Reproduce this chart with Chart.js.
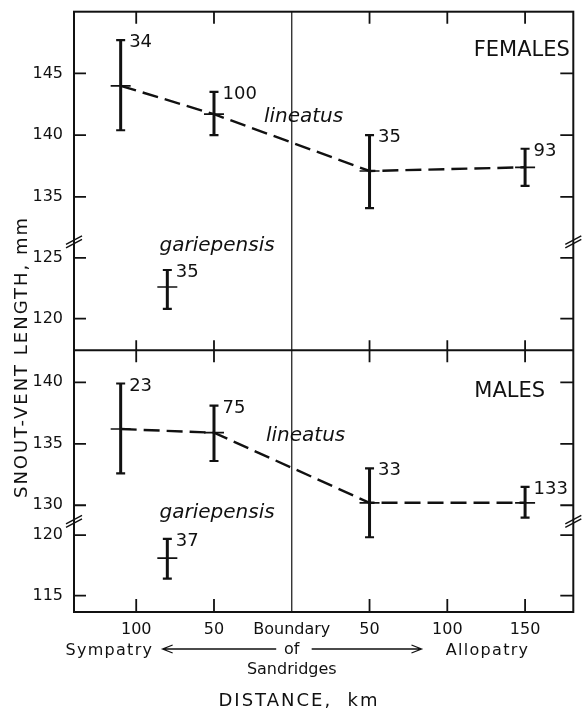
<!DOCTYPE html>
<html>
<head>
<meta charset="utf-8">
<script src="https://cdn.jsdelivr.net/npm/chart.js@4.4.0/dist/chart.umd.min.js"></script>
<style>
  html, body { margin: 0; padding: 0; background: #fff; }
  #wrap { width: 585px; height: 712px; }
</style>
</head>
<body>
<div id="wrap"><canvas id="grafic"></canvas></div>
<script>
// distance from the sandridge boundary, km (negative = sympatry side)
const llocsLineatus = [-110, -50, 50, 150];
const llocsGariep = [-80];

// snout-vent length, mm : mean, range, sample size
const femLinMitja = [144.0, 141.7, 137.1, 137.4];
const femLinMin = [140.4, 140.0, 134.1, 135.9];
const femLinMax = [147.7, 143.5, 140.0, 138.9];
const femLinN = [34, 100, 35, 93];

const femGarMitja = [122.6];
const femGarMin = [120.8];
const femGarMax = [124.0];
const femGarN = [35];

const masLinMitja = [136.2, 135.9, 130.2, 130.2];
const masLinMin = [132.6, 133.6, 127.4, 129.0];
const masLinMax = [139.9, 138.1, 133.0, 131.5];
const masLinN = [23, 75, 33, 133];

const masGarMitja = [118.1];
const masGarMin = [116.4];
const masGarMax = [119.7];
const masGarN = [37];

const xTicks = [-100, -50, 0, 50, 100, 150];
const xTickLabels = ['100', '50', ['Boundary', 'of', 'Sandridges'], '50', '100', '150'];
const femTicksUp = [145, 140, 135];
const femTicksDown = [125, 120];
const masTicksUp = [140, 135, 130];
const masTicksDown = [120, 115];

const ink = '#111';
const font = 'DejaVu Sans';

function punts(label, axis, xs, ys, line) {
  return {
    label: label,
    yAxisID: axis,
    data: xs.map((x, i) => ({x: x, y: ys[i]})),
    showLine: line,
    borderColor: ink,
    borderWidth: 2.4,
    borderDash: [16, 7],
    pointStyle: 'line',
    pointRadius: 10,
    pointBorderWidth: 1.7,
    pointBorderColor: ink,
    tension: 0
  };
}

function eixY(min, max, weight, stackWeight, ticks) {
  return {
    type: 'linear',
    position: 'left',
    stack: 'svl',
    weight: weight,
    stackWeight: stackWeight,
    min: min,
    max: max,
    grid: {display: false},
    border: {display: false},
    afterBuildTicks: s => { s.ticks = ticks.map(v => ({value: v})); },
    afterFit: s => { s.width = 74; s.paddingTop = 0; s.paddingBottom = 0; },
    ticks: {autoSkip: false, padding: 3, color: ink, font: {family: font, size: 16}}
  };
}

const errors = [
  {axis: 'yF1', x: llocsLineatus, lo: femLinMin, hi: femLinMax, n: femLinN},
  {axis: 'yF2', x: llocsGariep, lo: femGarMin, hi: femGarMax, n: femGarN},
  {axis: 'yM1', x: llocsLineatus, lo: masLinMin, hi: masLinMax, n: masLinN},
  {axis: 'yM2', x: llocsGariep, lo: masGarMin, hi: masGarMax, n: masGarN}
];

const marc = {
  id: 'marc',
  beforeDatasetsDraw(chart) {
    const {ctx, chartArea: a, scales} = chart;
    const xs = scales.x;
    const sepY = scales.yM1.top;
    ctx.save();
    ctx.strokeStyle = ink;
    ctx.lineWidth = 2;
    ctx.strokeRect(a.left, a.top, a.right - a.left, a.bottom - a.top);
    ctx.beginPath();
    ctx.moveTo(a.left, sepY); ctx.lineTo(a.right, sepY);
    ctx.stroke();

    // boundary of sandridges
    ctx.lineWidth = 1.2;
    const bx = xs.getPixelForValue(0);
    ctx.beginPath();
    ctx.moveTo(bx, a.top); ctx.lineTo(bx, a.bottom);
    ctx.stroke();

    ctx.lineWidth = 1.8;
    xTicks.forEach(v => {
      if (v === 0) return;
      const px = xs.getPixelForValue(v);
      ctx.beginPath();
      ctx.moveTo(px, a.top); ctx.lineTo(px, a.top + 12);
      ctx.moveTo(px, sepY - 10); ctx.lineTo(px, sepY + 12);
      ctx.moveTo(px, a.bottom); ctx.lineTo(px, a.bottom - 13);
      ctx.stroke();
    });
    ['yF1', 'yF2', 'yM1', 'yM2'].forEach(id => {
      const s = scales[id];
      s.ticks.forEach(t => {
        const py = s.getPixelForValue(t.value);
        ctx.beginPath();
        ctx.moveTo(a.left, py); ctx.lineTo(a.left + 12, py);
        ctx.moveTo(a.right, py); ctx.lineTo(a.right - 13, py);
        ctx.stroke();
      });
    });

    // axis breaks
    ctx.lineWidth = 1.4;
    [scales.yF1.bottom, scales.yM1.bottom].forEach(py => {
      [a.left, a.right].forEach(px => {
        ctx.beginPath();
        ctx.moveTo(px - 8, py + 2.5); ctx.lineTo(px + 8, py - 6);
        ctx.moveTo(px - 8, py + 6); ctx.lineTo(px + 8, py - 2.5);
        ctx.stroke();
      });
    });
    ctx.restore();
  }
};

const barres = {
  id: 'barres',
  afterDatasetsDraw(chart) {
    const {ctx, scales} = chart;
    const xs = scales.x;
    ctx.save();
    ctx.strokeStyle = ink;
    ctx.fillStyle = ink;
    ctx.font = '18px ' + font;
    ctx.textAlign = 'left';
    ctx.textBaseline = 'alphabetic';
    errors.forEach(g => {
      const ys = scales[g.axis];
      g.x.forEach((x, i) => {
        const px = xs.getPixelForValue(x);
        const top = ys.getPixelForValue(g.hi[i]);
        const bot = ys.getPixelForValue(g.lo[i]);
        ctx.lineWidth = 3;
        ctx.beginPath();
        ctx.moveTo(px, top); ctx.lineTo(px, bot);
        ctx.stroke();
        ctx.lineWidth = 2.2;
        ctx.beginPath();
        ctx.moveTo(px - 4.5, top); ctx.lineTo(px + 4.5, top);
        ctx.moveTo(px - 4.5, bot); ctx.lineTo(px + 4.5, bot);
        ctx.stroke();
        ctx.fillText(String(g.n[i]), px + 8.5, top + 7);
      });
    });
    ctx.restore();
  }
};

const textos = {
  id: 'textos',
  afterDraw(chart) {
    const {ctx, scales} = chart;
    const xs = scales.x;
    const at = (axis, x, y) => [xs.getPixelForValue(x), scales[axis].getPixelForValue(y)];
    ctx.save();
    ctx.fillStyle = ink;
    ctx.strokeStyle = ink;
    ctx.textAlign = 'left';
    ctx.textBaseline = 'alphabetic';

    ctx.font = 'italic 20px ' + font;
    let p = at('yF1', -17.9, 141.1); ctx.fillText('lineatus', p[0], p[1]);
    p = at('yF2', -85, 125.6); ctx.fillText('gariepensis', p[0], p[1]);
    p = at('yM1', -16.6, 135.2); ctx.fillText('lineatus', p[0], p[1]);
    p = at('yM1', -85, 128.95); ctx.fillText('gariepensis', p[0], p[1]);

    ctx.font = '21px ' + font;
    p = at('yF1', 117, 146.4); ctx.fillText('FEMALES', p[0], p[1]);
    p = at('yM1', 117.4, 138.8); ctx.fillText('MALES', p[0], p[1]);

    // sympatry / allopatry arrows under the axis
    ctx.font = '16px ' + font;
    ctx.letterSpacing = '1.3px';
    ctx.textAlign = 'right';
    ctx.fillText('Sympatry', xs.getPixelForValue(-89), 655);
    ctx.textAlign = 'left';
    ctx.fillText('Allopatry', xs.getPixelForValue(99), 655);
    ctx.letterSpacing = '0px';
    ctx.lineWidth = 1.3;
    const l1 = xs.getPixelForValue(-83), l2 = xs.getPixelForValue(-10);
    const r1 = xs.getPixelForValue(12.8), r2 = xs.getPixelForValue(83.4);
    ctx.beginPath();
    ctx.moveTo(l1, 649); ctx.lineTo(l2, 649);
    ctx.moveTo(l1 + 10, 645); ctx.lineTo(l1, 649); ctx.lineTo(l1 + 10, 653);
    ctx.moveTo(r1, 649); ctx.lineTo(r2, 649);
    ctx.moveTo(r2 - 10, 645); ctx.lineTo(r2, 649); ctx.lineTo(r2 - 10, 653);
    ctx.stroke();

    ctx.font = '18px ' + font;
    ctx.letterSpacing = '2px';
    ctx.textAlign = 'center';
    ctx.fillText('DISTANCE,  km', 299, 706);

    ctx.translate(27, 357);
    ctx.rotate(-Math.PI / 2);
    ctx.fillText('SNOUT-VENT LENGTH, mm', 0, 0);
    ctx.restore();
  }
};

new Chart(document.getElementById('grafic'), {
  type: 'scatter',
  data: {
    datasets: [
      punts('lineatus females', 'yF1', llocsLineatus, femLinMitja, true),
      punts('gariepensis females', 'yF2', llocsGariep, femGarMitja, false),
      punts('lineatus males', 'yM1', llocsLineatus, masLinMitja, true),
      punts('gariepensis males', 'yM2', llocsGariep, masGarMitja, false)
    ]
  },
  options: {
    responsive: true,
    maintainAspectRatio: false,
    animation: false,
    events: [],
    layout: {padding: {top: 8, right: 9, bottom: 0, left: 0}},
    plugins: {
      legend: {display: false},
      tooltip: {enabled: false}
    },
    scales: {
      x: {
        type: 'linear',
        position: 'bottom',
        min: -140,
        max: 181,
        grid: {display: false},
        border: {display: false},
        afterBuildTicks: s => { s.ticks = xTicks.map(v => ({value: v})); },
        afterFit: s => { s.height = 100; s.paddingLeft = 0; s.paddingRight = 0; },
        ticks: {
          autoSkip: false,
          maxRotation: 0,
          padding: 0,
          color: ink,
          font: {family: font, size: 16, lineHeight: 1.25},
          callback: (v, i) => xTickLabels[i]
        }
      },
      yF1: eixY(131.35, 150.0, 4, 231.7, femTicksUp),
      yF2: eixY(117.4, 126.3, 3, 109, femTicksDown),
      yM1: eixY(128.7, 142.6, 2, 172, masTicksUp),
      yM2: eixY(113.64, 121.15, 1, 91.3, masTicksDown)
    }
  },
  plugins: [marc, barres, textos]
});
</script>
</body>
</html>
